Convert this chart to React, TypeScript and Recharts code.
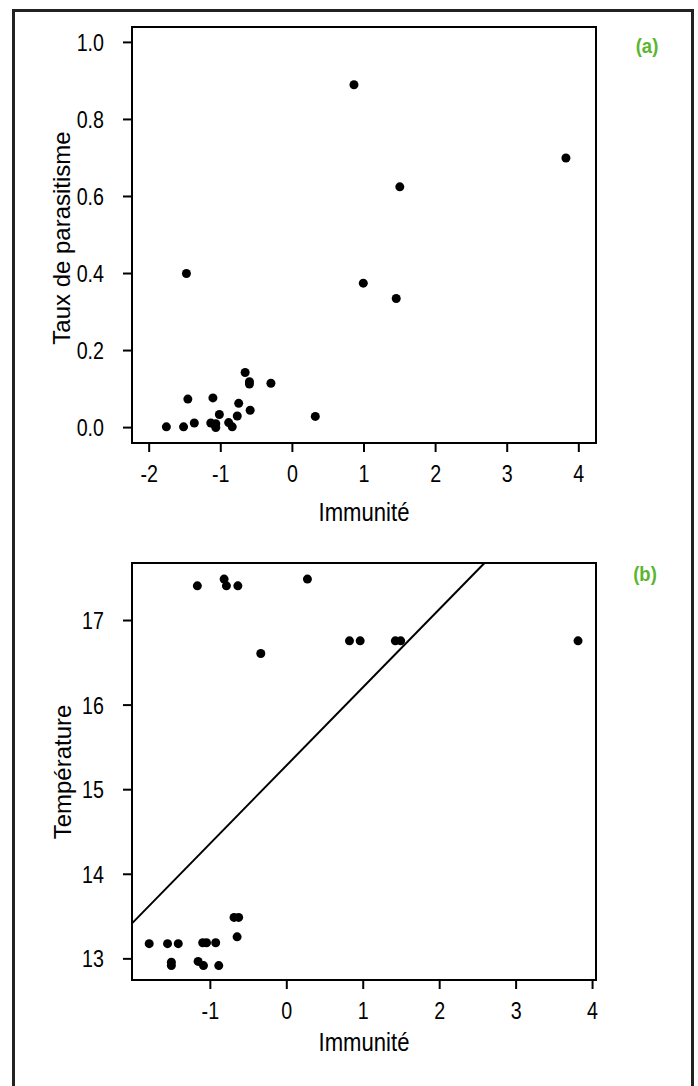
import React from 'react';
import {
  ScatterChart,
  Scatter,
  XAxis,
  YAxis,
  ReferenceArea,
  ReferenceLine,
} from 'recharts';

// (a) Taux de parasitisme selon l'immunité
const immuniteA = [0.86, 1.5, 3.82, -1.48, 0.99, 1.45, -0.66, -0.6, -0.6, -0.3, -1.46, -1.11, -0.75, -1.02, -0.77, -0.59, 0.32, -1.76, -1.52, -1.37, -1.14, -1.07, -1.07, -0.89, -0.84];
const parasitismeA = [0.89, 0.625, 0.7, 0.4, 0.375, 0.335, 0.143, 0.119, 0.113, 0.115, 0.074, 0.077, 0.063, 0.034, 0.03, 0.045, 0.029, 0.002, 0.002, 0.012, 0.012, 0.01, 0.0, 0.013, 0.002];

// (b) Température selon l'immunité
const immuniteB = [-1.17, -0.82, -0.79, -0.64, 0.27, 0.82, 0.96, 1.42, 1.49, -0.34, 3.81, -1.8, -1.56, -1.42, -1.1, -1.05, -0.93, -1.51, -1.51, -1.16, -1.09, -0.89, -0.69, -0.63, -0.65];
const temperatureB = [17.41, 17.49, 17.41, 17.41, 17.49, 16.76, 16.76, 16.76, 16.76, 16.61, 16.76, 13.18, 13.18, 13.18, 13.19, 13.19, 13.19, 12.96, 12.92, 12.97, 12.92, 12.92, 13.49, 13.49, 13.26];

// droite de régression du panneau (b)
const interceptB = 15.29;
const slopeB = 0.924;

const ticksXA = [-2, -1, 0, 1, 2, 3, 4];
const ticksYA = [0, 0.2, 0.4, 0.6, 0.8, 1.0];
const ticksXB = [-1, 0, 1, 2, 3, 4];
const ticksYB = [13, 14, 15, 16, 17];

const domXA: [number, number] = [-2.24, 4.24];
const domYA: [number, number] = [-0.04, 1.04];
const domXB: [number, number] = [-2.025, 4.045];
const domYB: [number, number] = [12.75, 17.68];

const dataA = immuniteA.map((x, i) => ({ x, y: parasitismeA[i] }));
const dataB = immuniteB.map((x, i) => ({ x, y: temperatureB[i] }));

const font = '"Liberation Sans", Arial, sans-serif';
const green = '#5cb531';
const squeeze = 0.82; // le texte de la figure est étroit

const Dot = (props: any) => <circle cx={props.cx} cy={props.cy} r={4.5} fill="#000" />;

const XTick = (props: any) => (
  <g transform={`translate(${props.x},${props.y})`}>
    <text transform={`scale(${squeeze},1)`} textAnchor="middle" dy="0.72em" fontSize={24} fontFamily={font} fill="#000">
      {props.payload.value}
    </text>
  </g>
);

const makeYTick = (fmt: (v: number) => string) => (props: any) => (
  <g transform={`translate(${props.x},${props.y})`}>
    <text transform={`scale(${squeeze},1)`} textAnchor="end" dy="0.36em" fontSize={24} fontFamily={font} fill="#000">
      {fmt(props.payload.value)}
    </text>
  </g>
);

const YTickA = makeYTick((v) => v.toFixed(1));
const YTickB = makeYTick((v) => String(v));

const lineStart = { x: domXB[0], y: interceptB + slopeB * domXB[0] };
const lineEnd = { x: (domYB[1] - interceptB) / slopeB, y: domYB[1] };

const Title = ({ text, x, y, rotate }: { text: string; x: number; y: number; rotate?: boolean }) => (
  <div
    style={{
      position: 'absolute',
      left: x,
      top: y,
      transform: rotate ? 'translate(-50%, -50%) rotate(-90deg)' : 'translate(-50%, -50%) scaleX(0.85)',
      whiteSpace: 'nowrap',
      fontFamily: font,
      fontSize: rotate ? 24 : 26,
      color: '#000',
      lineHeight: 1,
    }}
  >
    {text}
  </div>
);

const Tag = ({ text, x, y }: { text: string; x: number; y: number }) => (
  <div
    style={{
      position: 'absolute',
      left: x,
      top: y,
      transform: 'translate(-50%, -50%) scaleX(0.88)',
      fontFamily: font,
      fontWeight: 700,
      fontSize: 21,
      color: green,
      lineHeight: 1,
    }}
  >
    {text}
  </div>
);

export default function App() {
  return (
    <div style={{ position: 'absolute', left: 0, top: 0, width: 698, height: 1086, background: '#fff', overflow: 'hidden' }}>
      <div style={{ position: 'absolute', left: 12, top: 9, width: 682, height: 1200, border: '3px solid #222', boxSizing: 'border-box' }} />

      <div style={{ position: 'absolute', left: 0, top: 0 }}>
        <ScatterChart width={698} height={540} margin={{ top: 27, right: 102, bottom: 57, left: 72 }}>
          <XAxis
            type="number"
            dataKey="x"
            domain={domXA}
            ticks={ticksXA}
            interval={0}
            allowDataOverflow
            height={40}
            axisLine={false}
            tickLine={{ stroke: '#000', strokeWidth: 2 }}
            tickSize={9}
            tickMargin={13}
            tick={XTick}
          />
          <YAxis
            type="number"
            dataKey="y"
            domain={domYA}
            ticks={ticksYA}
            interval={0}
            allowDataOverflow
            width={60}
            axisLine={false}
            tickLine={{ stroke: '#000', strokeWidth: 2 }}
            tickSize={9}
            tickMargin={19}
            tick={YTickA}
          />
          <ReferenceArea x1={domXA[0]} x2={domXA[1]} y1={domYA[0]} y2={domYA[1]} fill="none" stroke="#000" strokeWidth={2} ifOverflow="visible" />
          <Scatter data={dataA} shape={Dot} isAnimationActive={false} />
        </ScatterChart>
      </div>

      <div style={{ position: 'absolute', left: 0, top: 540 }}>
        <ScatterChart width={698} height={540} margin={{ top: 23, right: 102, bottom: 60, left: 72 }}>
          <XAxis
            type="number"
            dataKey="x"
            domain={domXB}
            ticks={ticksXB}
            interval={0}
            allowDataOverflow
            height={40}
            axisLine={false}
            tickLine={{ stroke: '#000', strokeWidth: 2 }}
            tickSize={9}
            tickMargin={13}
            tick={XTick}
          />
          <YAxis
            type="number"
            dataKey="y"
            domain={domYB}
            ticks={ticksYB}
            interval={0}
            allowDataOverflow
            width={60}
            axisLine={false}
            tickLine={{ stroke: '#000', strokeWidth: 2 }}
            tickSize={9}
            tickMargin={19}
            tick={YTickB}
          />
          <ReferenceArea x1={domXB[0]} x2={domXB[1]} y1={domYB[0]} y2={domYB[1]} fill="none" stroke="#000" strokeWidth={2} ifOverflow="visible" />
          <ReferenceLine segment={[lineStart, lineEnd]} stroke="#000" strokeWidth={2} ifOverflow="visible" />
          <Scatter data={dataB} shape={Dot} isAnimationActive={false} />
        </ScatterChart>
      </div>

      <Title text="Immunité" x={364} y={512} />
      <Title text="Immunité" x={364} y={1042} />
      <Title text="Taux de parasitisme" x={62} y={238} rotate />
      <Title text="Température" x={63} y={772} rotate />
      <Tag text="(a)" x={647} y={45} />
      <Tag text="(b)" x={645} y={573} />
    </div>
  );
}
